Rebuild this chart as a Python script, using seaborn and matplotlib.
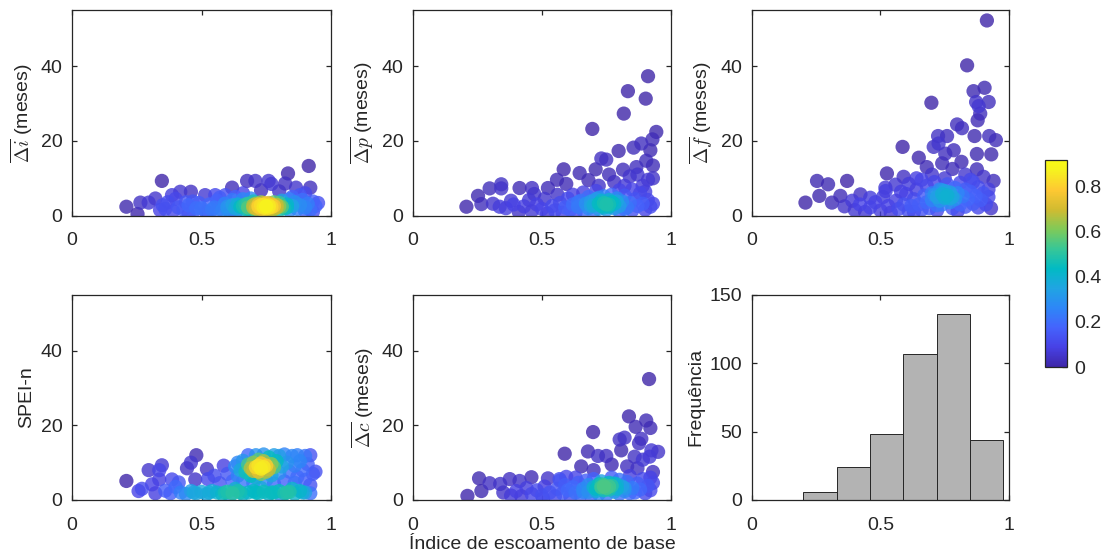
import numpy as np
import pandas as pd
import matplotlib
matplotlib.use("Agg")
import matplotlib.pyplot as plt
from matplotlib.colors import LinearSegmentedColormap, Normalize
from matplotlib.cm import ScalarMappable
import seaborn as sns

# ---------------- data ----------------
delta_i_pts = [
    (0.21,2.4),(0.253,0.45),(0.264,3.5),(0.296,3.5),(0.322,4.6),(0.34,1.5),(0.347,9.3),(0.35,2.8),(0.37,3.6),
    (0.386,5.5),(0.418,6.4),(0.459,6.4),(0.466,3.8),(0.40,4.5),(0.514,5.5),(0.553,5.5),(0.592,5.5),(0.618,7.5),
    (0.676,9.3),(0.708,9.3),(0.759,9.3),(0.77,8.5),(0.823,8.6),(0.834,11.3),(0.865,7.5),(0.914,13.3),(0.92,7.5),
    (0.9,6.0),(0.88,5.5),(0.8,6.5),(0.73,6.8),(0.66,6.0),(0.45,0.4),(0.52,0.4),(0.56,1.2),(0.63,0.4),(0.7,0.4),
    (0.9,1.2),(0.93,1.0),
    (0.43,1.6),(0.45,2.8),(0.47,1.2),(0.49,3.4),(0.50,2.0),(0.52,1.0),(0.53,3.0),(0.55,2.2),(0.56,4.0),(0.58,1.5),
    (0.59,3.2),(0.60,2.4),(0.61,1.0),(0.62,4.2),(0.63,2.0),(0.64,3.0),(0.65,1.4),(0.66,2.6),(0.66,4.4),(0.67,1.8),
    (0.68,3.2),(0.68,2.2),(0.69,1.2),(0.70,2.8),(0.70,3.8),(0.71,2.0),(0.71,1.4),(0.72,3.0),(0.72,2.4),(0.73,1.8),
    (0.73,2.8),(0.73,3.6),(0.74,2.2),(0.74,2.9),(0.74,1.5),(0.75,2.5),(0.75,3.2),(0.75,2.0),(0.76,2.7),(0.76,1.6),
    (0.76,3.4),(0.77,2.3),(0.77,3.0),(0.78,2.6),(0.78,1.8),(0.78,3.6),(0.79,2.2),(0.79,2.9),(0.80,3.4),(0.80,1.5),
    (0.81,2.4),(0.81,4.0),(0.82,2.0),(0.83,3.0),(0.84,1.4),(0.84,4.4),(0.85,2.6),(0.86,3.6),(0.87,1.8),(0.88,2.8),
    (0.89,4.2),(0.90,2.2),(0.91,3.2),(0.92,1.6),(0.93,3.8),(0.94,2.6),(0.95,3.4),(0.69,4.6),(0.63,5.0),(0.57,4.8),
    (0.85,5.0),(0.60,1.6),(0.65,2.4),(0.67,3.0),(0.70,2.2),(0.72,1.6),(0.77,1.4),(0.80,2.5),(0.83,2.2),(0.71,3.2),
    (0.74,3.4),(0.76,2.2),(0.62,2.8),(0.54,1.6),(0.48,2.0),(0.44,3.6),(0.41,2.2),(0.39,1.2),(0.36,1.8),
]

delta_p_pts = [
    (0.207,2.4),(0.252,5.3),(0.265,3.1),(0.297,7.3),(0.31,3.2),(0.336,2.4),(0.342,8.4),(0.342,7.3),(0.38,4.0),
    (0.413,7.4),(0.461,7.4),(0.523,7.4),(0.558,9.6),(0.584,12.4),(0.594,8.5),(0.646,11.4),(0.695,23.2),(0.708,12.4),
    (0.73,15.3),(0.749,15.0),(0.797,17.3),(0.814,12.3),(0.817,27.3),(0.833,33.3),(0.855,18.2),(0.866,13.0),
    (0.885,19.3),(0.902,31.3),(0.904,14.7),(0.911,37.3),(0.911,9.6),(0.92,17.5),(0.928,20.4),(0.93,13.4),
    (0.943,22.4),(0.68,9.5),(0.76,11.0),(0.78,9.0),(0.84,10.5),(0.87,11.0),(0.89,8.0),(0.93,10.0),(0.82,8.0),
    (0.72,8.0),
    (0.36,2.0),(0.39,3.0),(0.41,1.0),(0.43,2.5),(0.45,4.2),(0.46,1.2),(0.48,3.0),(0.50,1.8),(0.51,4.5),(0.52,0.6),
    (0.54,2.6),(0.55,1.4),(0.57,3.4),(0.58,0.8),(0.59,2.2),(0.60,4.6),(0.61,1.6),(0.62,3.0),(0.63,0.8),(0.64,2.4),
    (0.65,4.0),(0.66,1.4),(0.67,3.2),(0.68,5.0),(0.68,2.0),(0.69,3.8),(0.70,1.2),(0.70,2.8),(0.71,4.4),(0.72,3.2),
    (0.72,1.8),(0.73,4.0),(0.73,2.6),(0.74,3.4),(0.74,5.2),(0.75,3.0),(0.75,1.6),(0.76,4.2),(0.76,2.4),(0.77,3.6),
    (0.77,5.6),(0.78,2.0),(0.78,3.2),(0.79,4.6),(0.80,2.6),(0.80,1.2),(0.81,3.8),(0.82,5.4),(0.83,2.2),(0.84,3.4),
    (0.85,1.4),(0.86,4.4),(0.87,2.6),(0.88,6.0),(0.89,3.2),(0.90,1.6),(0.91,4.2),(0.92,2.4),(0.93,3.2),(0.90,6.4),
    (0.66,6.2),(0.56,5.6),(0.62,5.6),(0.47,5.8),(0.71,6.6),(0.80,6.8),(0.85,7.0),(0.74,2.2),(0.76,3.0),(0.72,4.8),
    (0.79,3.8),(0.69,2.6),(0.82,1.8),(0.64,3.6),
]

delta_f_pts = [
    (0.208,3.5),(0.253,9.3),(0.262,5.3),(0.296,8.4),(0.311,3.5),(0.344,5.3),(0.37,9.3),(0.36,2.5),(0.39,4.0),
    (0.422,5.7),(0.46,4.8),(0.519,7.5),(0.525,11.3),(0.558,8.3),(0.586,18.4),(0.59,10.4),(0.649,15.5),(0.698,30.2),
    (0.707,18.4),(0.724,21.3),(0.726,19.3),(0.752,16.6),(0.759,21.3),(0.785,17.5),(0.798,24.4),(0.815,14.4),
    (0.817,23.4),(0.837,40.2),(0.862,33.3),(0.866,21.3),(0.872,30.4),(0.875,16.5),(0.875,12.4),(0.878,25.5),
    (0.882,29.3),(0.888,27.3),(0.901,10.4),(0.905,34.2),(0.914,52.2),(0.921,30.4),(0.923,21.3),(0.931,16.4),
    (0.94,9.3),(0.949,20.2),(0.68,13.0),(0.74,14.0),(0.78,12.5),(0.83,11.0),(0.86,9.0),(0.92,7.0),(0.70,11.0),
    (0.64,10.0),(0.61,8.5),
    (0.40,1.5),(0.42,3.0),(0.44,1.0),(0.46,2.2),(0.48,3.6),(0.50,1.4),(0.51,5.0),(0.53,2.6),(0.54,0.8),(0.56,4.0),
    (0.57,1.8),(0.59,3.0),(0.60,5.8),(0.61,1.2),(0.62,2.6),(0.63,4.4),(0.64,7.0),(0.65,3.0),(0.66,1.6),(0.67,5.4),
    (0.68,3.6),(0.68,8.0),(0.69,2.0),(0.70,6.0),(0.70,4.2),(0.71,9.0),(0.72,5.0),(0.72,2.8),(0.73,7.0),(0.73,4.0),
    (0.74,5.8),(0.74,3.0),(0.75,6.6),(0.75,4.8),(0.76,5.4),(0.76,8.4),(0.77,3.6),(0.77,6.2),(0.78,5.0),(0.78,2.0),
    (0.79,7.4),(0.79,4.4),(0.80,6.0),(0.81,3.0),(0.81,8.8),(0.82,5.2),(0.83,7.0),(0.83,2.4),(0.84,4.4),(0.85,6.4),
    (0.86,3.2),(0.87,5.2),(0.88,7.6),(0.88,2.2),(0.89,4.2),(0.90,6.0),(0.91,3.0),(0.92,5.0),(0.93,2.0),(0.66,9.6),
    (0.75,10.0),(0.85,9.6),(0.72,1.4),(0.63,1.0),(0.80,1.2),(0.58,6.4),(0.52,6.6),(0.74,6.8),(0.71,5.6),(0.77,4.6),
]

spei_n_pts = [
    (0.21,5.1),(0.257,2.4),(0.27,3.0),(0.296,8.0),(0.309,4.2),(0.322,1.8),(0.337,8.0),(0.337,5.5),(0.347,9.3),
    (0.36,2.5),(0.386,5.5),(0.40,3.5),(0.412,4.7),(0.444,8.5),(0.459,10.0),(0.48,12.0),(0.476,5.5),(0.521,8.3),
    (0.525,5.6),(0.586,9.2),(0.55,6.5),(0.60,7.0),(0.57,4.5),(0.62,5.0),(0.64,10.0),(0.38,1.8),
    (0.42,2.0),(0.44,1.6),(0.46,2.4),(0.48,1.8),(0.50,2.2),(0.52,1.6),(0.54,2.4),(0.56,2.0),(0.58,1.6),(0.60,2.2),
    (0.62,1.8),(0.64,2.4),(0.66,1.6),(0.68,2.0),(0.70,2.4),(0.72,1.8),(0.74,2.2),(0.76,1.6),(0.78,2.0),(0.80,2.4),
    (0.82,1.8),(0.84,2.2),(0.86,1.6),(0.88,2.4),(0.90,2.0),(0.92,1.8),(0.61,1.0),(0.81,0.8),(0.47,2.0),(0.53,2.0),
    (0.59,2.0),(0.65,2.0),(0.71,2.0),(0.77,2.0),(0.83,2.0),(0.89,2.0),(0.63,3.0),(0.73,3.2),(0.85,3.0),
    (0.63,9.0),(0.64,6.5),(0.65,8.0),(0.66,10.5),(0.66,5.0),(0.67,7.5),(0.68,9.5),(0.68,12.0),(0.69,6.5),(0.69,8.5),
    (0.70,10.0),(0.70,7.8),(0.71,8.8),(0.71,12.0),(0.71,6.0),(0.72,9.2),(0.72,7.6),(0.72,10.8),(0.73,8.4),(0.73,9.8),
    (0.73,7.0),(0.74,8.8),(0.74,12.2),(0.74,10.4),(0.75,7.6),(0.75,9.2),(0.76,8.2),(0.76,11.4),(0.77,9.6),(0.77,6.6),
    (0.78,8.8),(0.78,12.0),(0.79,10.4),(0.80,7.2),(0.80,11.8),(0.81,9.0),(0.82,12.2),(0.82,5.0),(0.83,10.0),
    (0.84,7.6),(0.85,11.8),(0.86,9.2),(0.87,12.0),(0.87,6.2),(0.88,10.4),(0.89,8.0),(0.90,11.8),(0.90,5.4),
    (0.91,9.6),(0.92,12.0),(0.93,7.0),(0.94,7.6),(0.92,4.0),(0.86,4.6),(0.78,4.4),(0.70,4.6),(0.75,5.4),
]

delta_c_pts = [
    (0.211,1.1),(0.256,5.8),(0.265,2.4),(0.297,4.5),(0.338,4.3),(0.375,5.6),(0.413,5.1),(0.459,6.1),(0.504,0.4),
    (0.523,5.8),(0.568,5.6),(0.588,12.4),(0.594,6.2),(0.652,9.0),(0.678,13.0),(0.698,18.2),(0.717,11.8),
    (0.749,11.8),(0.801,16.2),(0.807,13.3),(0.82,16.7),(0.837,22.4),(0.859,11.6),(0.863,19.6),(0.876,15.2),
    (0.885,16.4),(0.891,10.8),(0.904,21.3),(0.915,32.4),(0.917,11.6),(0.92,19.3),(0.924,13.3),(0.95,12.9),
    (0.77,9.5),(0.83,9.0),(0.87,8.5),(0.93,7.5),(0.70,8.0),(0.35,2.0),(0.38,1.2),
    (0.40,2.4),(0.42,1.0),(0.44,3.2),(0.46,1.6),(0.48,2.6),(0.50,1.2),(0.51,3.6),(0.53,2.0),(0.55,1.0),(0.56,3.0),
    (0.58,1.8),(0.59,4.0),(0.60,2.6),(0.61,1.0),(0.62,3.4),(0.63,2.0),(0.64,4.6),(0.65,1.4),(0.66,3.0),(0.67,5.2),
    (0.68,2.2),(0.68,4.0),(0.69,1.2),(0.70,3.4),(0.70,5.6),(0.71,2.4),(0.72,4.2),(0.72,1.6),(0.73,3.4),(0.73,5.0),
    (0.74,2.6),(0.74,4.0),(0.75,3.2),(0.75,1.4),(0.76,4.6),(0.76,2.8),(0.77,3.8),(0.77,6.0),(0.78,2.2),(0.78,4.4),
    (0.79,3.0),(0.80,5.4),(0.80,1.6),(0.81,3.6),(0.82,2.4),(0.83,4.8),(0.84,1.8),(0.84,6.4),(0.85,3.2),(0.86,2.0),
    (0.87,4.4),(0.88,2.8),(0.89,5.6),(0.90,1.8),(0.91,3.8),(0.92,2.6),(0.93,4.6),(0.92,6.0),(0.63,6.0),(0.57,5.2),
    (0.74,3.6),(0.73,4.2),(0.76,3.6),(0.71,3.0),(0.79,4.2),(0.66,2.2),(0.82,3.2),
]

# colour peak of each panel as read against the colour bar
panel_peaks = [0.88, 0.48, 0.40, 0.86, 0.55]

# histogram of the base-flow index
hist_edges = [0.2, 0.3297, 0.4594, 0.5891, 0.7188, 0.8485, 0.978]
hist_counts = [6, 24, 48, 107, 136, 44]

y_labels = [r'$\overline{\mathit{\Delta} i}$ (meses)', r'$\overline{\mathit{\Delta} p}$ (meses)',
            r'$\overline{\mathit{\Delta} f}$ (meses)', 'SPEI-n', r'$\overline{\Delta c}$ (meses)']
x_label = 'Índice de escoamento de base'
hist_label = 'Frequência'
cbar_ticks = [0, 0.2, 0.4, 0.6, 0.8]
cbar_max = 0.915

# ---------------- style ----------------
sns.set_theme(style="white")
plt.rcParams['font.family'] = ['Liberation Sans', 'DejaVu Sans']
plt.rcParams['mathtext.fontset'] = 'cm'
INK = '#262626'
FS = 14

parula = LinearSegmentedColormap.from_list('parula', [
    (0.000, (0.2422, 0.1504, 0.6603)),
    (0.095, (0.2783, 0.2559, 0.8991)),
    (0.190, (0.2699, 0.3892, 0.9906)),
    (0.286, (0.1786, 0.5289, 0.9682)),
    (0.381, (0.1248, 0.6459, 0.8883)),
    (0.476, (0.0067, 0.7300, 0.7661)),
    (0.571, (0.2161, 0.7795, 0.5923)),
    (0.667, (0.5044, 0.7904, 0.3438)),
    (0.762, (0.8203, 0.7330, 0.1893)),
    (0.857, (0.9957, 0.7861, 0.1973)),
    (0.952, (0.9653, 0.9486, 0.1223)),
    (1.000, (0.9769, 0.9839, 0.0805)),
])

W, H = 1111, 558
fig = plt.figure(figsize=(W / 100, H / 100), dpi=100)


def add_ax(left, right, top, bottom):
    return fig.add_axes([left / W, (H - bottom) / H, (right - left) / W, (bottom - top) / H])


boxes = [(72, 331, 10, 215.7), (413, 671, 10, 215.7), (752, 1009, 10, 215.7),
         (72, 331, 294.7, 500), (413, 671, 294.7, 500), (752, 1009, 294.7, 500)]
axes = [add_ax(*b) for b in boxes]


def style_ax(ax):
    for s in ax.spines.values():
        s.set_color(INK)
        s.set_linewidth(0.9)
        s.set_visible(True)
    ax.tick_params(direction='in', length=3.5, width=0.9, colors=INK, labelsize=FS,
                   top=True, right=True, bottom=True, left=True)
    ax.tick_params(axis='x', pad=12)
    ax.tick_params(axis='y', pad=7)
    ax.set_xlim(0, 1)
    ax.set_xticks([0, 0.5, 1])
    ax.set_xticklabels(['0', '0.5', '1'])
    ax.grid(False)


def density(x, y, hx=0.03, hy=1.2):
    dx = (x[:, None] - x[None, :]) / hx
    dy = (y[:, None] - y[None, :]) / hy
    return np.exp(-0.5 * (dx ** 2 + dy ** 2)).sum(axis=1)


norm = Normalize(0, cbar_max)
panels = [delta_i_pts, delta_p_pts, delta_f_pts, spei_n_pts, delta_c_pts]
for k, pts in enumerate(panels):
    ax = axes[k]
    arr = np.array(pts, dtype=float)
    df = pd.DataFrame({'x': arr[:, 0], 'y': arr[:, 1]})
    d = density(df['x'].values, df['y'].values)
    d = (d - d.min()) / (d.max() - d.min())
    df['dens'] = d * panel_peaks[k]
    df = df.sort_values('dens')
    sns.scatterplot(data=df, x='x', y='y', hue='dens', palette=parula, hue_norm=norm,
                    s=105, alpha=0.8, linewidth=0, legend=False, ax=ax)
    style_ax(ax)
    ax.set_ylim(0, 55)
    ax.set_yticks([0, 20, 40])
    ax.set_ylabel(y_labels[k], fontsize=FS, color=INK, labelpad=4)
    ax.set_xlabel('')

# histogram
ax = axes[5]
centers = [(hist_edges[i] + hist_edges[i + 1]) / 2 for i in range(len(hist_counts))]
sns.histplot(x=centers, weights=hist_counts, bins=hist_edges, color=(0.7, 0.7, 0.7),
             edgecolor=INK, linewidth=0.7, alpha=1, ax=ax)
style_ax(ax)
ax.set_ylim(0, 150)
ax.set_yticks([0, 50, 100, 150])
ax.set_ylabel(hist_label, fontsize=FS, color=INK, labelpad=4)
ax.set_xlabel('')

axes[4].set_xlabel(x_label, fontsize=FS, color=INK, labelpad=2)

# colour bar
cax = add_ax(1045, 1067, 160, 367)
cb = fig.colorbar(ScalarMappable(norm=norm, cmap=parula), cax=cax, ticks=cbar_ticks)
cb.ax.set_yticklabels(['0', '0.2', '0.4', '0.6', '0.8'])
cb.outline.set_edgecolor(INK)
cb.outline.set_linewidth(0.9)
cb.ax.tick_params(direction='in', length=3.5, width=0.9, colors=INK, labelsize=FS, pad=5)

fig.savefig('out.png', dpi=100)
